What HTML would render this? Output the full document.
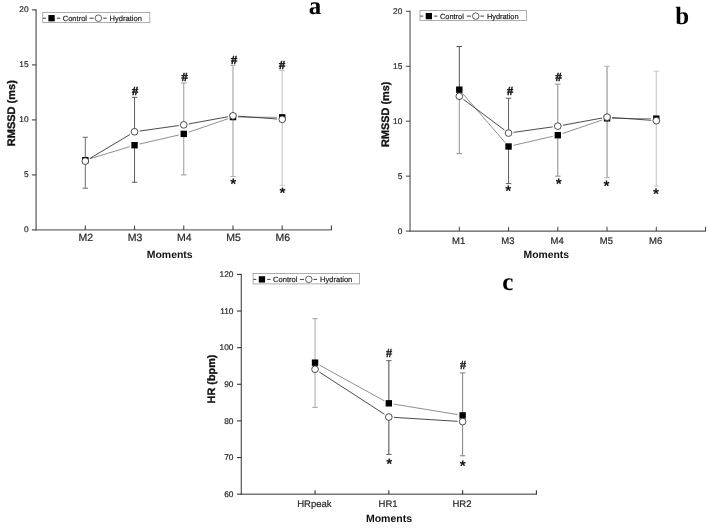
<!DOCTYPE html>
<html><head><meta charset="utf-8"><title>Figure</title>
<style>html,body{margin:0;padding:0;background:#fff;}svg{display:block;}</style>
</head><body>
<svg width="708" height="528" viewBox="0 0 708 528" text-rendering="geometricPrecision">
<rect width="708" height="528" fill="#fff"/>
<line x1="36.1" y1="9.2" x2="36.1" y2="230.6" stroke="#6c6c6c" stroke-width="1.4" />
<line x1="35.4" y1="229.9" x2="331.92" y2="229.9" stroke="#6c6c6c" stroke-width="1.4" />
<line x1="31.9" y1="229.9" x2="36.1" y2="229.9" stroke="#444" stroke-width="1.1" />
<text x="28.5" y="232.37" font-family='"Liberation Sans", Arial, sans-serif' font-size="8.3" font-weight="normal" text-anchor="end" fill="#2a2a2a" stroke="#222" stroke-width="0.2">0</text>
<line x1="31.9" y1="174.9" x2="36.1" y2="174.9" stroke="#444" stroke-width="1.1" />
<text x="28.5" y="177.37" font-family='"Liberation Sans", Arial, sans-serif' font-size="8.3" font-weight="normal" text-anchor="end" fill="#2a2a2a" stroke="#222" stroke-width="0.2">5</text>
<line x1="31.9" y1="119.9" x2="36.1" y2="119.9" stroke="#444" stroke-width="1.1" />
<text x="28.5" y="122.37" font-family='"Liberation Sans", Arial, sans-serif' font-size="8.3" font-weight="normal" text-anchor="end" fill="#2a2a2a" stroke="#222" stroke-width="0.2">10</text>
<line x1="31.9" y1="64.9" x2="36.1" y2="64.9" stroke="#444" stroke-width="1.1" />
<text x="28.5" y="67.37" font-family='"Liberation Sans", Arial, sans-serif' font-size="8.3" font-weight="normal" text-anchor="end" fill="#2a2a2a" stroke="#222" stroke-width="0.2">15</text>
<line x1="31.9" y1="9.9" x2="36.1" y2="9.9" stroke="#444" stroke-width="1.1" />
<text x="28.5" y="12.37" font-family='"Liberation Sans", Arial, sans-serif' font-size="8.3" font-weight="normal" text-anchor="end" fill="#2a2a2a" stroke="#222" stroke-width="0.2">20</text>
<line x1="85.32" y1="225.6" x2="85.32" y2="229.9" stroke="#444" stroke-width="1.1" />
<text x="85.82" y="240.9" font-family='"Liberation Sans", Arial, sans-serif' font-size="10.5" font-weight="normal" text-anchor="middle" fill="#2a2a2a" stroke="#222" stroke-width="0.2">M2</text>
<line x1="134.54" y1="225.6" x2="134.54" y2="229.9" stroke="#444" stroke-width="1.1" />
<text x="135.04" y="240.9" font-family='"Liberation Sans", Arial, sans-serif' font-size="10.5" font-weight="normal" text-anchor="middle" fill="#2a2a2a" stroke="#222" stroke-width="0.2">M3</text>
<line x1="183.76" y1="225.6" x2="183.76" y2="229.9" stroke="#444" stroke-width="1.1" />
<text x="184.26" y="240.9" font-family='"Liberation Sans", Arial, sans-serif' font-size="10.5" font-weight="normal" text-anchor="middle" fill="#2a2a2a" stroke="#222" stroke-width="0.2">M4</text>
<line x1="232.98" y1="225.6" x2="232.98" y2="229.9" stroke="#444" stroke-width="1.1" />
<text x="233.48" y="240.9" font-family='"Liberation Sans", Arial, sans-serif' font-size="10.5" font-weight="normal" text-anchor="middle" fill="#2a2a2a" stroke="#222" stroke-width="0.2">M5</text>
<line x1="282.2" y1="225.6" x2="282.2" y2="229.9" stroke="#444" stroke-width="1.1" />
<text x="282.7" y="240.9" font-family='"Liberation Sans", Arial, sans-serif' font-size="10.5" font-weight="normal" text-anchor="middle" fill="#2a2a2a" stroke="#222" stroke-width="0.2">M6</text>
<line x1="331.42" y1="225.6" x2="331.42" y2="229.9" stroke="#444" stroke-width="1.1" />
<text x="169.7" y="257.5" font-family='"Liberation Sans", Arial, sans-serif' font-size="10.45" font-weight="bold" text-anchor="middle" fill="#111" >Moments</text>
<text transform="translate(14.8,113.2) rotate(-90)" font-family='"Liberation Sans", Arial, sans-serif' font-size="11" font-weight="bold" text-anchor="middle" fill="#111" stroke="#111" stroke-width="0.3">RMSSD (ms)</text>
<text x="315.1" y="14.2" font-family='"Liberation Serif", "Times New Roman", serif' font-size="25" font-weight="bold" text-anchor="middle" fill="#000" >a</text>
<rect x="42.7" y="12.4" width="107.1" height="10.2" fill="#fff" stroke="#999" stroke-width="0.8"/>
<line x1="43" y1="18.2" x2="45.9" y2="18.2" stroke="#2a2a2a" stroke-width="0.9" />
<rect x="48.4" y="15.05" width="6.3" height="6.3" fill="#000"/>
<line x1="56.8" y1="18.2" x2="60.2" y2="18.2" stroke="#2a2a2a" stroke-width="0.9" />
<text x="62.7" y="20.9" font-family='"Liberation Sans", Arial, sans-serif' font-size="7.55" font-weight="normal" text-anchor="start" fill="#222" stroke="#222" stroke-width="0.2">Control</text>
<line x1="89.5" y1="18.2" x2="93.7" y2="18.2" stroke="#2a2a2a" stroke-width="0.9" />
<circle cx="98.4" cy="18.2" r="3.25" fill="#fff" stroke="#222" stroke-width="0.7"/>
<line x1="103.1" y1="18.2" x2="106.7" y2="18.2" stroke="#2a2a2a" stroke-width="0.9" />
<text x="109.6" y="20.9" font-family='"Liberation Sans", Arial, sans-serif' font-size="7.55" font-weight="normal" text-anchor="start" fill="#222" stroke="#222" stroke-width="0.2">Hydration</text>
<line x1="85.32" y1="137.28" x2="85.32" y2="160.16" stroke="#6e6e6e" stroke-width="1" />
<line x1="85.32" y1="161.15" x2="85.32" y2="188.21" stroke="#6e6e6e" stroke-width="1" />
<line x1="82.57" y1="137.28" x2="88.07" y2="137.28" stroke="#6e6e6e" stroke-width="1" />
<line x1="82.57" y1="188.21" x2="88.07" y2="188.21" stroke="#6e6e6e" stroke-width="1" />
<line x1="134.54" y1="97.35" x2="134.54" y2="131.78" stroke="#5c5c5c" stroke-width="1" />
<line x1="134.54" y1="145.2" x2="134.54" y2="182.27" stroke="#5c5c5c" stroke-width="1" />
<line x1="131.79" y1="97.35" x2="137.29" y2="97.35" stroke="#5c5c5c" stroke-width="1" />
<line x1="131.79" y1="182.27" x2="137.29" y2="182.27" stroke="#5c5c5c" stroke-width="1" />
<line x1="183.76" y1="83.05" x2="183.76" y2="124.85" stroke="#999" stroke-width="1" />
<line x1="183.76" y1="133.87" x2="183.76" y2="174.9" stroke="#999" stroke-width="1" />
<line x1="181.01" y1="83.05" x2="186.51" y2="83.05" stroke="#999" stroke-width="1" />
<line x1="181.01" y1="174.9" x2="186.51" y2="174.9" stroke="#999" stroke-width="1" />
<line x1="232.98" y1="65.45" x2="232.98" y2="115.83" stroke="#b0b0b0" stroke-width="1.3" />
<line x1="232.98" y1="117.04" x2="232.98" y2="176.44" stroke="#b0b0b0" stroke-width="1.3" />
<line x1="230.23" y1="65.45" x2="235.73" y2="65.45" stroke="#b0b0b0" stroke-width="1" />
<line x1="230.23" y1="176.44" x2="235.73" y2="176.44" stroke="#b0b0b0" stroke-width="1" />
<line x1="282.2" y1="70.4" x2="282.2" y2="117.37" stroke="#c6c6c6" stroke-width="1.1" />
<line x1="282.2" y1="119.35" x2="282.2" y2="185.35" stroke="#c6c6c6" stroke-width="1.1" />
<line x1="279.45" y1="70.4" x2="284.95" y2="70.4" stroke="#c6c6c6" stroke-width="1" />
<line x1="279.45" y1="185.35" x2="284.95" y2="185.35" stroke="#c6c6c6" stroke-width="1" />
<line x1="90.2" y1="158.68" x2="129.66" y2="146.68" stroke="#6a6a6a" stroke-width="0.75" />
<line x1="139.51" y1="144.06" x2="178.79" y2="135.01" stroke="#6a6a6a" stroke-width="0.75" />
<line x1="188.59" y1="132.22" x2="228.15" y2="118.69" stroke="#6a6a6a" stroke-width="0.75" />
<line x1="238.08" y1="117.07" x2="277.1" y2="117.34" stroke="#6a6a6a" stroke-width="0.75" />
<line x1="89.7" y1="158.54" x2="130.16" y2="134.39" stroke="#2a2a2a" stroke-width="0.85" />
<line x1="139.59" y1="131.07" x2="178.71" y2="125.56" stroke="#2a2a2a" stroke-width="0.85" />
<line x1="188.78" y1="123.93" x2="227.96" y2="116.75" stroke="#2a2a2a" stroke-width="0.85" />
<line x1="238.07" y1="116.19" x2="277.11" y2="118.99" stroke="#2a2a2a" stroke-width="0.85" />
<rect x="82.12" y="156.96" width="6.4" height="6.4" fill="#000"/>
<rect x="131.34" y="142" width="6.4" height="6.4" fill="#000"/>
<rect x="180.56" y="130.67" width="6.4" height="6.4" fill="#000"/>
<rect x="229.78" y="113.84" width="6.4" height="6.4" fill="#000"/>
<rect x="279" y="114.17" width="6.4" height="6.4" fill="#000"/>
<circle cx="85.32" cy="161.15" r="3.35" fill="#fff" stroke="#222" stroke-width="0.8"/>
<circle cx="134.54" cy="131.78" r="3.35" fill="#fff" stroke="#222" stroke-width="0.8"/>
<circle cx="183.76" cy="124.85" r="3.35" fill="#fff" stroke="#222" stroke-width="0.8"/>
<circle cx="232.98" cy="115.83" r="3.35" fill="#fff" stroke="#222" stroke-width="0.8"/>
<circle cx="282.2" cy="119.35" r="3.35" fill="#fff" stroke="#222" stroke-width="0.8"/>
<text x="135.2" y="95.3" font-family='"Liberation Serif", "Times New Roman", serif' font-size="12.3" font-weight="bold" text-anchor="middle" fill="#111" stroke="#111" stroke-width="0.5">#</text>
<text x="184.7" y="81.3" font-family='"Liberation Serif", "Times New Roman", serif' font-size="12.3" font-weight="bold" text-anchor="middle" fill="#111" stroke="#111" stroke-width="0.5">#</text>
<text x="234.1" y="63.6" font-family='"Liberation Serif", "Times New Roman", serif' font-size="12.3" font-weight="bold" text-anchor="middle" fill="#111" stroke="#111" stroke-width="0.5">#</text>
<text x="282" y="68.8" font-family='"Liberation Serif", "Times New Roman", serif' font-size="12.3" font-weight="bold" text-anchor="middle" fill="#111" stroke="#111" stroke-width="0.5">#</text>
<text x="233.25" y="189.13" font-family='"Liberation Sans", Arial, sans-serif' font-size="15.3" font-weight="bold" text-anchor="middle" fill="#111" >*</text>
<text x="282.5" y="197.93" font-family='"Liberation Sans", Arial, sans-serif' font-size="15.3" font-weight="bold" text-anchor="middle" fill="#111" >*</text>
<line x1="410.05" y1="10.72" x2="410.05" y2="231.67" stroke="#585858" stroke-width="1.15" />
<line x1="409.48" y1="231.1" x2="706.05" y2="231.1" stroke="#585858" stroke-width="1.15" />
<line x1="405.85" y1="231.1" x2="410.05" y2="231.1" stroke="#444" stroke-width="1" />
<text x="402.25" y="233.57" font-family='"Liberation Sans", Arial, sans-serif' font-size="8.3" font-weight="normal" text-anchor="end" fill="#2a2a2a" stroke="#222" stroke-width="0.2">0</text>
<line x1="405.85" y1="176.15" x2="410.05" y2="176.15" stroke="#444" stroke-width="1" />
<text x="402.25" y="178.62" font-family='"Liberation Sans", Arial, sans-serif' font-size="8.3" font-weight="normal" text-anchor="end" fill="#2a2a2a" stroke="#222" stroke-width="0.2">5</text>
<line x1="405.85" y1="121.2" x2="410.05" y2="121.2" stroke="#444" stroke-width="1" />
<text x="402.25" y="123.67" font-family='"Liberation Sans", Arial, sans-serif' font-size="8.3" font-weight="normal" text-anchor="end" fill="#2a2a2a" stroke="#222" stroke-width="0.2">10</text>
<line x1="405.85" y1="66.25" x2="410.05" y2="66.25" stroke="#444" stroke-width="1" />
<text x="402.25" y="68.72" font-family='"Liberation Sans", Arial, sans-serif' font-size="8.3" font-weight="normal" text-anchor="end" fill="#2a2a2a" stroke="#222" stroke-width="0.2">15</text>
<line x1="405.85" y1="11.3" x2="410.05" y2="11.3" stroke="#444" stroke-width="1" />
<text x="402.25" y="13.77" font-family='"Liberation Sans", Arial, sans-serif' font-size="8.3" font-weight="normal" text-anchor="end" fill="#2a2a2a" stroke="#222" stroke-width="0.2">20</text>
<line x1="459.3" y1="226.8" x2="459.3" y2="231.1" stroke="#444" stroke-width="1" />
<text x="458.6" y="243.5" font-family='"Liberation Sans", Arial, sans-serif' font-size="9.5" font-weight="normal" text-anchor="middle" fill="#2a2a2a" stroke="#222" stroke-width="0.2">M1</text>
<line x1="508.55" y1="226.8" x2="508.55" y2="231.1" stroke="#444" stroke-width="1" />
<text x="507.85" y="243.5" font-family='"Liberation Sans", Arial, sans-serif' font-size="9.5" font-weight="normal" text-anchor="middle" fill="#2a2a2a" stroke="#222" stroke-width="0.2">M3</text>
<line x1="557.8" y1="226.8" x2="557.8" y2="231.1" stroke="#444" stroke-width="1" />
<text x="557.1" y="243.5" font-family='"Liberation Sans", Arial, sans-serif' font-size="9.5" font-weight="normal" text-anchor="middle" fill="#2a2a2a" stroke="#222" stroke-width="0.2">M4</text>
<line x1="607.05" y1="226.8" x2="607.05" y2="231.1" stroke="#444" stroke-width="1" />
<text x="606.35" y="243.5" font-family='"Liberation Sans", Arial, sans-serif' font-size="9.5" font-weight="normal" text-anchor="middle" fill="#2a2a2a" stroke="#222" stroke-width="0.2">M5</text>
<line x1="656.3" y1="226.8" x2="656.3" y2="231.1" stroke="#444" stroke-width="1" />
<text x="655.6" y="243.5" font-family='"Liberation Sans", Arial, sans-serif' font-size="9.5" font-weight="normal" text-anchor="middle" fill="#2a2a2a" stroke="#222" stroke-width="0.2">M6</text>
<line x1="705.55" y1="226.8" x2="705.55" y2="231.1" stroke="#444" stroke-width="1" />
<text x="546.3" y="258.1" font-family='"Liberation Sans", Arial, sans-serif' font-size="10.4" font-weight="bold" text-anchor="middle" fill="#111" >Moments</text>
<text transform="translate(389.2,114.3) rotate(-90)" font-family='"Liberation Sans", Arial, sans-serif' font-size="10.9" font-weight="bold" text-anchor="middle" fill="#111" stroke="#111" stroke-width="0.3">RMSSD (ms)</text>
<text x="682.2" y="24.1" font-family='"Liberation Serif", "Times New Roman", serif' font-size="25" font-weight="bold" text-anchor="middle" fill="#000" >b</text>
<rect x="420" y="10.4" width="106.5" height="10" fill="#fff" stroke="#999" stroke-width="0.8"/>
<line x1="420.3" y1="16.1" x2="423.2" y2="16.1" stroke="#2a2a2a" stroke-width="0.9" />
<rect x="425.7" y="12.95" width="6.3" height="6.3" fill="#000"/>
<line x1="434.1" y1="16.1" x2="437.5" y2="16.1" stroke="#2a2a2a" stroke-width="0.9" />
<text x="440" y="18.75" font-family='"Liberation Sans", Arial, sans-serif' font-size="7.4" font-weight="normal" text-anchor="start" fill="#222" stroke="#222" stroke-width="0.2">Control</text>
<line x1="466.8" y1="16.1" x2="471" y2="16.1" stroke="#2a2a2a" stroke-width="0.9" />
<circle cx="475.7" cy="16.1" r="3.25" fill="#fff" stroke="#222" stroke-width="0.7"/>
<line x1="480.4" y1="16.1" x2="484" y2="16.1" stroke="#2a2a2a" stroke-width="0.9" />
<text x="486.9" y="18.75" font-family='"Liberation Sans", Arial, sans-serif' font-size="7.4" font-weight="normal" text-anchor="start" fill="#222" stroke="#222" stroke-width="0.2">Hydration</text>
<line x1="459.3" y1="46.47" x2="459.3" y2="89.66" stroke="#555" stroke-width="1" />
<line x1="459.3" y1="96.25" x2="459.3" y2="153.62" stroke="#929292" stroke-width="1" />
<line x1="456.55" y1="46.47" x2="462.05" y2="46.47" stroke="#555" stroke-width="1" />
<line x1="456.55" y1="153.62" x2="462.05" y2="153.62" stroke="#929292" stroke-width="1" />
<line x1="508.55" y1="98.23" x2="508.55" y2="133.07" stroke="#4c4c4c" stroke-width="0.9" />
<line x1="508.55" y1="146.48" x2="508.55" y2="183.62" stroke="#4c4c4c" stroke-width="0.9" />
<line x1="505.8" y1="98.23" x2="511.3" y2="98.23" stroke="#4c4c4c" stroke-width="0.9" />
<line x1="505.8" y1="183.62" x2="511.3" y2="183.62" stroke="#4c4c4c" stroke-width="0.9" />
<line x1="557.8" y1="84.16" x2="557.8" y2="126.15" stroke="#8a8a8a" stroke-width="1" />
<line x1="557.8" y1="135.16" x2="557.8" y2="176.15" stroke="#8a8a8a" stroke-width="1" />
<line x1="555.05" y1="84.16" x2="560.55" y2="84.16" stroke="#8a8a8a" stroke-width="1" />
<line x1="555.05" y1="176.15" x2="560.55" y2="176.15" stroke="#8a8a8a" stroke-width="1" />
<line x1="607.05" y1="66.25" x2="607.05" y2="117.13" stroke="#adadad" stroke-width="1.5" />
<line x1="607.05" y1="118.34" x2="607.05" y2="177.69" stroke="#adadad" stroke-width="1.5" />
<line x1="604.3" y1="66.25" x2="609.8" y2="66.25" stroke="#adadad" stroke-width="1" />
<line x1="604.3" y1="177.69" x2="609.8" y2="177.69" stroke="#adadad" stroke-width="1" />
<line x1="656.3" y1="71.2" x2="656.3" y2="118.67" stroke="#c8c8c8" stroke-width="1.1" />
<line x1="656.3" y1="120.65" x2="656.3" y2="186.04" stroke="#c8c8c8" stroke-width="1.1" />
<line x1="653.55" y1="71.2" x2="659.05" y2="71.2" stroke="#c8c8c8" stroke-width="1" />
<line x1="653.55" y1="186.04" x2="659.05" y2="186.04" stroke="#c8c8c8" stroke-width="1" />
<line x1="462.64" y1="93.51" x2="505.21" y2="142.62" stroke="#6a6a6a" stroke-width="0.75" />
<line x1="513.52" y1="145.33" x2="552.83" y2="136.3" stroke="#6a6a6a" stroke-width="0.75" />
<line x1="562.63" y1="133.51" x2="602.22" y2="119.99" stroke="#6a6a6a" stroke-width="0.75" />
<line x1="612.15" y1="118.38" x2="651.2" y2="118.64" stroke="#6a6a6a" stroke-width="0.75" />
<line x1="463.38" y1="99.31" x2="504.47" y2="130.02" stroke="#2a2a2a" stroke-width="0.85" />
<line x1="513.6" y1="132.36" x2="552.75" y2="126.86" stroke="#2a2a2a" stroke-width="0.85" />
<line x1="562.82" y1="125.23" x2="602.03" y2="118.05" stroke="#2a2a2a" stroke-width="0.85" />
<line x1="612.14" y1="117.5" x2="651.21" y2="120.29" stroke="#2a2a2a" stroke-width="0.85" />
<rect x="456.1" y="86.46" width="6.4" height="6.4" fill="#000"/>
<rect x="505.35" y="143.28" width="6.4" height="6.4" fill="#000"/>
<rect x="554.6" y="131.96" width="6.4" height="6.4" fill="#000"/>
<rect x="603.85" y="115.14" width="6.4" height="6.4" fill="#000"/>
<rect x="653.1" y="115.47" width="6.4" height="6.4" fill="#000"/>
<circle cx="459.3" cy="96.25" r="3.35" fill="#fff" stroke="#222" stroke-width="0.8"/>
<circle cx="508.55" cy="133.07" r="3.35" fill="#fff" stroke="#222" stroke-width="0.8"/>
<circle cx="557.8" cy="126.15" r="3.35" fill="#fff" stroke="#222" stroke-width="0.8"/>
<circle cx="607.05" cy="117.13" r="3.35" fill="#fff" stroke="#222" stroke-width="0.8"/>
<circle cx="656.3" cy="120.65" r="3.35" fill="#fff" stroke="#222" stroke-width="0.8"/>
<text x="510.1" y="95" font-family='"Liberation Serif", "Times New Roman", serif' font-size="12.3" font-weight="bold" text-anchor="middle" fill="#111" stroke="#111" stroke-width="0.5">#</text>
<text x="558.5" y="80.9" font-family='"Liberation Serif", "Times New Roman", serif' font-size="12.3" font-weight="bold" text-anchor="middle" fill="#111" stroke="#111" stroke-width="0.5">#</text>
<text x="508.25" y="195.73" font-family='"Liberation Sans", Arial, sans-serif' font-size="15.3" font-weight="bold" text-anchor="middle" fill="#111" >*</text>
<text x="558.7" y="189.03" font-family='"Liberation Sans", Arial, sans-serif' font-size="15.3" font-weight="bold" text-anchor="middle" fill="#111" >*</text>
<text x="606.5" y="190.63" font-family='"Liberation Sans", Arial, sans-serif' font-size="15.3" font-weight="bold" text-anchor="middle" fill="#111" >*</text>
<text x="655.9" y="198.93" font-family='"Liberation Sans", Arial, sans-serif' font-size="15.3" font-weight="bold" text-anchor="middle" fill="#111" >*</text>
<line x1="241.25" y1="273.9" x2="241.25" y2="494.65" stroke="#333" stroke-width="1" />
<line x1="240.75" y1="494.15" x2="536.91" y2="494.15" stroke="#333" stroke-width="1" />
<line x1="237.05" y1="494.15" x2="241.25" y2="494.15" stroke="#333" stroke-width="1.1" />
<text x="233.45" y="496.82" font-family='"Liberation Sans", Arial, sans-serif' font-size="8.3" font-weight="normal" text-anchor="end" fill="#2a2a2a" stroke="#222" stroke-width="0.2">60</text>
<line x1="237.05" y1="457.52" x2="241.25" y2="457.52" stroke="#333" stroke-width="1.1" />
<text x="233.45" y="460.2" font-family='"Liberation Sans", Arial, sans-serif' font-size="8.3" font-weight="normal" text-anchor="end" fill="#2a2a2a" stroke="#222" stroke-width="0.2">70</text>
<line x1="237.05" y1="420.9" x2="241.25" y2="420.9" stroke="#333" stroke-width="1.1" />
<text x="233.45" y="423.57" font-family='"Liberation Sans", Arial, sans-serif' font-size="8.3" font-weight="normal" text-anchor="end" fill="#2a2a2a" stroke="#222" stroke-width="0.2">80</text>
<line x1="237.05" y1="384.27" x2="241.25" y2="384.27" stroke="#333" stroke-width="1.1" />
<text x="233.45" y="386.95" font-family='"Liberation Sans", Arial, sans-serif' font-size="8.3" font-weight="normal" text-anchor="end" fill="#2a2a2a" stroke="#222" stroke-width="0.2">90</text>
<line x1="237.05" y1="347.65" x2="241.25" y2="347.65" stroke="#333" stroke-width="1.1" />
<text x="233.45" y="350.32" font-family='"Liberation Sans", Arial, sans-serif' font-size="8.3" font-weight="normal" text-anchor="end" fill="#2a2a2a" stroke="#222" stroke-width="0.2">100</text>
<line x1="237.05" y1="311.02" x2="241.25" y2="311.02" stroke="#333" stroke-width="1.1" />
<text x="233.45" y="313.7" font-family='"Liberation Sans", Arial, sans-serif' font-size="8.3" font-weight="normal" text-anchor="end" fill="#2a2a2a" stroke="#222" stroke-width="0.2">110</text>
<line x1="237.05" y1="274.4" x2="241.25" y2="274.4" stroke="#333" stroke-width="1.1" />
<text x="233.45" y="277.07" font-family='"Liberation Sans", Arial, sans-serif' font-size="8.3" font-weight="normal" text-anchor="end" fill="#2a2a2a" stroke="#222" stroke-width="0.2">120</text>
<line x1="315.04" y1="490.15" x2="315.04" y2="494.15" stroke="#333" stroke-width="1.1" />
<text x="314.34" y="506.5" font-family='"Liberation Sans", Arial, sans-serif' font-size="9.5" font-weight="normal" text-anchor="middle" fill="#2a2a2a" stroke="#222" stroke-width="0.2">HRpeak</text>
<line x1="388.83" y1="490.15" x2="388.83" y2="494.15" stroke="#333" stroke-width="1.1" />
<text x="388.13" y="506.5" font-family='"Liberation Sans", Arial, sans-serif' font-size="9.5" font-weight="normal" text-anchor="middle" fill="#2a2a2a" stroke="#222" stroke-width="0.2">HR1</text>
<line x1="462.62" y1="490.15" x2="462.62" y2="494.15" stroke="#333" stroke-width="1.1" />
<text x="461.92" y="506.5" font-family='"Liberation Sans", Arial, sans-serif' font-size="9.5" font-weight="normal" text-anchor="middle" fill="#2a2a2a" stroke="#222" stroke-width="0.2">HR2</text>
<line x1="536.41" y1="490.15" x2="536.41" y2="494.15" stroke="#333" stroke-width="1.1" />
<text x="389" y="522.4" font-family='"Liberation Sans", Arial, sans-serif' font-size="10.5" font-weight="bold" text-anchor="middle" fill="#111" >Moments</text>
<text transform="translate(215.2,379) rotate(-90)" font-family='"Liberation Sans", Arial, sans-serif' font-size="10.85" font-weight="bold" text-anchor="middle" fill="#111" stroke="#111" stroke-width="0.3">HR (bpm)</text>
<text x="507.9" y="290" font-family='"Liberation Serif", "Times New Roman", serif' font-size="25" font-weight="bold" text-anchor="middle" fill="#000" >c</text>
<rect x="253.1" y="273.5" width="106.5" height="10.4" fill="#fff" stroke="#999" stroke-width="0.8"/>
<line x1="253.4" y1="279.4" x2="256.3" y2="279.4" stroke="#2a2a2a" stroke-width="0.9" />
<rect x="258.8" y="276.25" width="6.3" height="6.3" fill="#000"/>
<line x1="267.2" y1="279.4" x2="270.6" y2="279.4" stroke="#2a2a2a" stroke-width="0.9" />
<text x="273.1" y="282.1" font-family='"Liberation Sans", Arial, sans-serif' font-size="7.55" font-weight="normal" text-anchor="start" fill="#222" stroke="#222" stroke-width="0.2">Control</text>
<line x1="299.9" y1="279.4" x2="304.1" y2="279.4" stroke="#2a2a2a" stroke-width="0.9" />
<circle cx="308.8" cy="279.4" r="3.25" fill="#fff" stroke="#222" stroke-width="0.7"/>
<line x1="313.5" y1="279.4" x2="317.1" y2="279.4" stroke="#2a2a2a" stroke-width="0.9" />
<text x="320" y="282.1" font-family='"Liberation Sans", Arial, sans-serif' font-size="7.55" font-weight="normal" text-anchor="start" fill="#222" stroke="#222" stroke-width="0.2">Hydration</text>
<line x1="315.04" y1="318.72" x2="315.04" y2="362.67" stroke="#c6c6c6" stroke-width="1.5" />
<line x1="315.04" y1="369.26" x2="315.04" y2="407.35" stroke="#c6c6c6" stroke-width="1.5" />
<line x1="312.29" y1="318.72" x2="317.79" y2="318.72" stroke="#a0a0a0" stroke-width="1" />
<line x1="312.29" y1="407.35" x2="317.79" y2="407.35" stroke="#a0a0a0" stroke-width="1" />
<line x1="388.83" y1="360.65" x2="388.83" y2="403.32" stroke="#666" stroke-width="1.2" />
<line x1="388.83" y1="417.05" x2="388.83" y2="454.41" stroke="#666" stroke-width="1.2" />
<line x1="386.08" y1="360.65" x2="391.58" y2="360.65" stroke="#666" stroke-width="1" />
<line x1="386.08" y1="454.41" x2="391.58" y2="454.41" stroke="#666" stroke-width="1" />
<line x1="462.62" y1="372.92" x2="462.62" y2="415.41" stroke="#707070" stroke-width="0.9" />
<line x1="462.62" y1="421.63" x2="462.62" y2="455.8" stroke="#707070" stroke-width="0.9" />
<line x1="459.87" y1="372.92" x2="465.37" y2="372.92" stroke="#707070" stroke-width="0.9" />
<line x1="459.87" y1="455.8" x2="465.37" y2="455.8" stroke="#707070" stroke-width="0.9" />
<line x1="319.51" y1="365.13" x2="384.36" y2="400.86" stroke="#6a6a6a" stroke-width="0.75" />
<line x1="393.86" y1="404.14" x2="457.59" y2="414.58" stroke="#6a6a6a" stroke-width="0.75" />
<line x1="319.32" y1="372.03" x2="384.55" y2="414.28" stroke="#2a2a2a" stroke-width="0.85" />
<line x1="393.92" y1="417.37" x2="457.53" y2="421.32" stroke="#2a2a2a" stroke-width="0.85" />
<rect x="311.84" y="359.47" width="6.4" height="6.4" fill="#000"/>
<rect x="385.63" y="400.12" width="6.4" height="6.4" fill="#000"/>
<rect x="459.42" y="412.21" width="6.4" height="6.4" fill="#000"/>
<circle cx="315.04" cy="369.26" r="3.35" fill="#fff" stroke="#222" stroke-width="0.8"/>
<circle cx="388.83" cy="417.05" r="3.35" fill="#fff" stroke="#222" stroke-width="0.8"/>
<circle cx="462.62" cy="421.63" r="3.35" fill="#fff" stroke="#222" stroke-width="0.8"/>
<text x="389.2" y="356.8" font-family='"Liberation Serif", "Times New Roman", serif' font-size="12.3" font-weight="bold" text-anchor="middle" fill="#111" stroke="#111" stroke-width="0.3">#</text>
<text x="463" y="369.2" font-family='"Liberation Serif", "Times New Roman", serif' font-size="12.3" font-weight="bold" text-anchor="middle" fill="#111" stroke="#111" stroke-width="0.3">#</text>
<text x="389.3" y="468.53" font-family='"Liberation Sans", Arial, sans-serif' font-size="15.3" font-weight="bold" text-anchor="middle" fill="#111" >*</text>
<text x="462.7" y="470.53" font-family='"Liberation Sans", Arial, sans-serif' font-size="15.3" font-weight="bold" text-anchor="middle" fill="#111" >*</text>
</svg>
</body></html>
